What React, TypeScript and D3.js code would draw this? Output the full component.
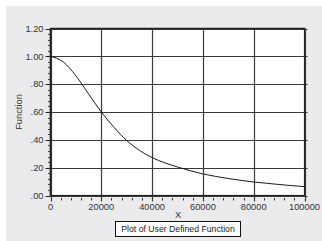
import { scaleLinear, line, curveMonotoneX, range } from "d3"

// values
const xValues = [0, 5000, 10000, 15000, 20000, 25000, 30000, 35000, 40000, 45000, 50000,
  55000, 60000, 65000, 70000, 75000, 80000, 85000, 90000, 95000, 100000]
const fnValues = [1.0, 0.96, 0.86, 0.73, 0.6, 0.49, 0.395, 0.325, 0.272, 0.235, 0.205,
  0.178, 0.155, 0.137, 0.122, 0.109, 0.097, 0.088, 0.079, 0.071, 0.064]

const xTicks = [0, 20000, 40000, 60000, 80000, 100000]
const yTicks = [0, 0.2, 0.4, 0.6, 0.8, 1.0, 1.2]
const yTickLabels = [".00", ".20", ".40", ".60", ".80", "1.00", "1.20"]

const title = "Plot of User Defined Function"
const xTitle = "X"
const yTitle = "Function"

export default function App() {
  const width = 322
  const height = 241
  const left = 50.5
  const right = 304.5
  const top = 28.5
  const bottom = 195.5
  const font = "'Liberation Sans', Arial, sans-serif"

  const x = scaleLinear().domain([0, 100000]).range([left, right])
  const y = scaleLinear().domain([0, 1.2]).range([bottom, top])

  const xMinor = range(0, 100001, 4000).filter((v) => v % 20000 !== 0)
  const yMinor = range(0, 1.2001, 0.04).filter((v) => Math.abs(v / 0.2 - Math.round(v / 0.2)) > 0.01)

  const path = line<number>()
    .x((d, i) => x(xValues[i]))
    .y((d) => y(d))
    .curve(curveMonotoneX)(fnValues)

  const gridColor = "#3a3a3a"

  return (
    <svg
      width={width}
      height={height}
      style={{ position: "absolute", left: 0, top: 0, fontFamily: font }}
    >
      <rect width={width} height={height} fill="#fff" />
      <rect x={6} y={6} width={width - 6} height={height - 6} fill="#ebebed" />

      {/* plot area */}
      <rect x={left} y={top} width={right - left} height={bottom - top} fill="#fff" />
      <line x1={left} x2={right + 1} y1={top - 1} y2={top - 1} stroke="#c8c8c8" />

      {/* grid */}
      {yTicks.map((t) => (
        <line key={"gy" + t} x1={left} x2={right + 3} y1={Math.round(y(t)) + 0.5} y2={Math.round(y(t)) + 0.5}
          stroke={gridColor} strokeWidth={1.2} />
      ))}
      {xTicks.map((t) => (
        <line key={"gx" + t} x1={Math.round(x(t)) + 0.5} x2={Math.round(x(t)) + 0.5} y1={top} y2={bottom + 6}
          stroke={gridColor} strokeWidth={1.2} />
      ))}

      {/* frame */}
      <rect x={left} y={top} width={right - left} height={bottom - top} fill="none" stroke="#222" strokeWidth={1.2} />
      <line x1={left} x2={left} y1={top} y2={bottom + 1} stroke="#222" strokeWidth={1.6} />

      {/* y axis ticks */}
      {yTicks.map((t) => (
        <line key={"ty" + t} x1={left - 5} x2={left} y1={Math.round(y(t)) + 0.5} y2={Math.round(y(t)) + 0.5}
          stroke="#222" />
      ))}
      {yMinor.map((t) => (
        <line key={"my" + t} x1={left - 2.5} x2={left} y1={Math.round(y(t)) + 0.5} y2={Math.round(y(t)) + 0.5}
          stroke="#444" />
      ))}
      {yTicks.map((t, i) => (
        <text key={"ly" + t} x={left - 7} y={y(t) + 3.3} textAnchor="end" fontSize={9.3} fill="#333">
          {yTickLabels[i]}
        </text>
      ))}

      {/* x axis ticks */}
      {xMinor.map((t) => (
        <line key={"mx" + t} x1={Math.round(x(t)) + 0.5} x2={Math.round(x(t)) + 0.5} y1={bottom + 2.5} y2={bottom + 5}
          stroke="#333" />
      ))}
      {xTicks.map((t) => (
        <text key={"lx" + t} x={x(t)} y={bottom + 14.5} textAnchor="middle" fontSize={9.3} fill="#333">
          {t}
        </text>
      ))}

      {/* curve */}
      <path d={path || undefined} fill="none" stroke="#1a1a1a" strokeWidth={1} />

      {/* axis titles */}
      <text x={178} y={218} textAnchor="middle" fontSize={9.3} fill="#333">{xTitle}</text>
      <text transform={`translate(22, ${(top + bottom) / 2}) rotate(-90)`} textAnchor="middle" fontSize={9.3} fill="#333">
        {yTitle}
      </text>

      {/* title box */}
      <rect x={115.5} y={221.5} width={125} height={15} fill="#fff" stroke="#111" />
      <text x={178} y={232.3} textAnchor="middle" fontSize={8.7} fill="#222">{title}</text>
    </svg>
  )
}
